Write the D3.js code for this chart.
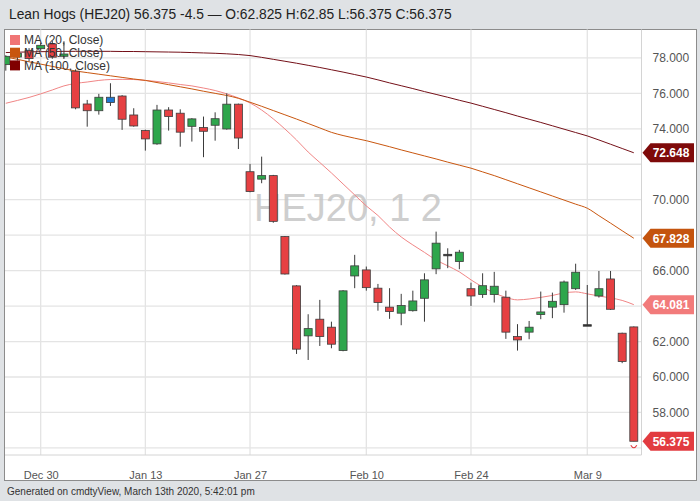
<!DOCTYPE html>
<html>
<head>
<meta charset="utf-8">
<script src="https://cdn.jsdelivr.net/npm/d3@7"></script>
<style>
  html, body { margin: 0; padding: 0; background: #dfe2e5; }
  svg { display: block; font-family: "Liberation Sans", Arial, sans-serif; }
</style>
</head>
<body>
<svg id="chart" width="700" height="501"></svg>
<script>
// ---------------- data ----------------
const title = "Lean Hogs (HEJ20) 56.375 -4.5 \u2014 O:62.825 H:62.85 L:56.375 C:56.375";
const footer = "Generated on cmdtyView, March 13th 2020, 5:42:01 pm";
const watermark = "HEJ20, 1 2";

const dates = ["2019-12-24","2019-12-26","2019-12-27","2019-12-30","2019-12-31",
  "2020-01-02","2020-01-03","2020-01-06","2020-01-07","2020-01-08","2020-01-09","2020-01-10",
  "2020-01-13","2020-01-14","2020-01-15","2020-01-16","2020-01-17","2020-01-21","2020-01-22",
  "2020-01-23","2020-01-24","2020-01-27","2020-01-28","2020-01-29","2020-01-30","2020-01-31",
  "2020-02-03","2020-02-04","2020-02-05","2020-02-06","2020-02-07","2020-02-10","2020-02-11",
  "2020-02-12","2020-02-13","2020-02-14","2020-02-18","2020-02-19","2020-02-20","2020-02-21",
  "2020-02-24","2020-02-25","2020-02-26","2020-02-27","2020-02-28","2020-03-02","2020-03-03",
  "2020-03-04","2020-03-05","2020-03-06","2020-03-09","2020-03-10","2020-03-11","2020-03-12","2020-03-13"];

const open  = [77.62,78.05,78.41,78.52,78.79,78.09,77.25,75.40,75.02,75.48,75.85,74.78,73.90,73.15,75.06,74.88,74.14,74.07,74.20,73.99,75.39,71.58,71.16,71.36,67.92,65.14,62.32,63.26,62.81,61.49,65.70,66.04,65.01,63.94,63.60,63.74,64.44,66.10,66.92,66.51,64.98,64.65,64.65,64.50,62.28,62.53,63.52,63.94,64.08,64.98,62.95,64.57,65.53,62.47,62.825];
const high  = [78.15,78.45,78.55,78.85,78.95,78.94,77.35,75.63,75.97,76.57,75.90,75.16,73.95,75.35,75.22,75.10,74.60,74.69,74.93,76.00,75.42,72.02,72.43,71.40,67.95,65.18,63.54,64.35,63.12,64.90,66.89,66.23,65.25,65.01,64.69,64.87,65.85,68.20,67.26,67.17,65.32,65.85,65.93,64.87,62.98,63.16,64.82,64.76,65.44,66.39,65.19,65.98,65.98,62.50,62.85];
const low   = [77.28,77.85,77.80,78.40,77.95,77.95,75.10,74.12,74.80,75.29,73.94,74.12,72.77,73.10,73.90,72.99,73.28,72.40,73.33,73.95,72.86,70.42,70.93,68.70,65.78,61.30,60.96,61.75,61.62,61.45,65.01,64.87,63.74,63.28,62.92,63.69,63.12,65.80,66.14,66.08,64.01,64.46,64.20,62.15,61.49,62.13,63.26,63.32,63.63,64.91,62.92,64.48,63.78,60.78,56.375];
const close = [78.09,78.25,77.96,78.71,78.04,78.22,75.18,75.02,75.78,75.78,74.54,74.16,73.43,75.06,74.69,73.81,74.56,73.86,74.57,75.39,73.48,70.46,71.36,68.78,65.81,61.57,62.73,62.28,61.85,64.86,66.27,65.04,64.20,63.69,64.03,64.29,65.48,67.55,66.92,67.04,64.57,65.15,65.12,62.53,62.09,62.81,63.67,64.27,65.36,65.91,62.95,64.98,63.82,60.875,56.375];
const blueDays = ["2020-01-08"];

const ma20  = [75.44,75.60,75.77,75.97,76.19,76.42,76.56,76.64,76.73,76.78,76.79,76.78,76.73,76.67,76.59,76.50,76.42,76.30,76.16,75.97,75.74,75.46,75.06,74.56,73.99,73.37,72.69,72.10,71.51,70.89,70.27,69.65,69.11,68.46,67.90,67.45,67.03,66.60,66.27,65.93,65.48,65.08,64.74,64.49,64.35,64.40,64.49,64.60,64.74,64.80,64.69,64.57,64.46,64.32,64.081];
const ma50  = [78.05,77.92,77.78,77.65,77.52,77.39,77.26,77.17,77.08,76.99,76.90,76.81,76.73,76.61,76.49,76.37,76.25,76.12,76.00,75.88,75.72,75.50,75.27,75.03,74.79,74.55,74.30,74.05,73.80,73.62,73.47,73.33,73.16,72.99,72.81,72.64,72.47,72.30,72.12,71.95,71.78,71.57,71.36,71.13,70.90,70.67,70.44,70.21,69.98,69.75,69.52,69.10,68.68,68.25,67.828];
const ma100 = [78.30,78.32,78.34,78.35,78.36,78.37,78.37,78.37,78.37,78.37,78.36,78.36,78.35,78.34,78.33,78.32,78.30,78.28,78.26,78.23,78.19,78.13,78.03,77.92,77.81,77.70,77.58,77.46,77.33,77.20,77.06,76.92,76.76,76.59,76.43,76.27,76.10,75.94,75.78,75.61,75.45,75.27,75.09,74.91,74.72,74.54,74.36,74.17,73.98,73.79,73.60,73.37,73.13,72.89,72.648];

const maNames  = ["MA (20, Close)", "MA (50, Close)", "MA (100, Close)"];
const maColors = ["#f08585", "#c8560f", "#741018"];
const legendColors = ["#f07575", "#c8560f", "#800000"];
const tagColors = ["#f27b7b", "#c4540e", "#7e0a0a"];
const lastTagColor = "#e23b40";

const xTickDates = ["2019-12-30","2020-01-13","2020-01-27","2020-02-10","2020-02-24","2020-03-09"];
const yTicks = [56,58,60,62,64,66,68,70,72,74,76,78];

// ---------------- layout ----------------
const svg = d3.select("#chart");
const plot = {left: 5, right: 641.5, top: 29.5, bottom: 455};

const x = d3.scalePoint().domain(dates).range([5.8, 633.8]);
const y = d3.scaleLinear().domain([55.6, 79.63]).range([plot.bottom, 29]);
const parse = d3.timeParse("%Y-%m-%d");
const fmt = d3.timeFormat("%b %-d");

// header
svg.append("text").attr("x", 9).attr("y", 19).attr("font-size", 13.8).attr("fill", "#222").text(title);

// panel
svg.append("rect").attr("x", 4.5).attr("y", 29.5).attr("width", 692).attr("height", 451)
  .attr("fill", "#fff").attr("stroke", "#8c8c8c").attr("stroke-width", 1);

// footer
svg.append("text").attr("x", 7).attr("y", 495).attr("font-size", 10).attr("fill", "#333").text(footer);

// clip
svg.append("defs").append("clipPath").attr("id", "clip")
  .append("rect").attr("x", plot.left).attr("y", plot.top).attr("width", plot.right - plot.left).attr("height", plot.bottom - plot.top);

// grid
const grid = svg.append("g");
grid.selectAll("line.h").data(yTicks).join("line")
  .attr("x1", plot.left).attr("x2", plot.right)
  .attr("y1", d => y(d)).attr("y2", d => y(d))
  .attr("stroke", "#e4e4e4").attr("stroke-width", 1.3);
grid.selectAll("line.v").data(xTickDates).join("line")
  .attr("x1", d => x(d)).attr("x2", d => x(d))
  .attr("y1", plot.top).attr("y2", plot.bottom)
  .attr("stroke", "#e4e4e4").attr("stroke-width", 1.3);

// plot borders (axis separators)
svg.append("line").attr("x1", plot.right).attr("x2", plot.right).attr("y1", plot.top).attr("y2", plot.bottom)
  .attr("stroke", "#d4d4d4");
svg.append("line").attr("x1", plot.left).attr("x2", plot.right).attr("y1", plot.bottom).attr("y2", plot.bottom)
  .attr("stroke", "#d4d4d4");

// watermark
svg.append("text").attr("x", 254).attr("y", 221).attr("font-size", 38).attr("fill", "#c6c6c6")
  .attr("opacity", 0.85).text(watermark);

// axes
const xAxis = d3.axisBottom(x).tickValues(xTickDates).tickSize(0).tickPadding(0)
  .tickFormat(d => fmt(parse(d)));
const gx = svg.append("g").attr("transform", `translate(0,${plot.bottom + 16})`).call(xAxis);
gx.select(".domain").remove();
gx.selectAll("text").attr("font-size", 11).attr("fill", "#555").attr("font-family", "'Liberation Sans', Arial, sans-serif");

// tags hide the tick labels they sit on
const tagValues = [ma100[ma100.length - 1], ma50[ma50.length - 1], ma20[ma20.length - 1], close[close.length - 1]];
const visibleTicks = yTicks.filter(t => tagValues.every(v => Math.abs(y(t) - y(v)) > 16));

const yAxis = d3.axisRight(y).tickValues(visibleTicks).tickSize(0).tickPadding(0).tickFormat(d3.format(".3f"));
const gy = svg.append("g").attr("transform", `translate(${plot.right + 11},0)`).call(yAxis);
gy.select(".domain").remove();
gy.selectAll("text").attr("font-size", 12).attr("fill", "#555").attr("font-family", "'Liberation Sans', Arial, sans-serif");

// content (clipped)
const content = svg.append("g").attr("clip-path", "url(#clip)");

// MA lines
[ma20, ma50, ma100].forEach((arr, i) => {
  const line = d3.line().x((d, j) => x(dates[j])).y(d => y(d)).curve(d3.curveMonotoneX);
  content.append("path").datum(arr).attr("d", line)
    .attr("fill", "none").attr("stroke", maColors[i]).attr("stroke-width", 1);
});

// candles
const candles = dates.map((d, i) => ({d, o: open[i], h: high[i], l: low[i], c: close[i]}));
const bw = 8;
const cg = content.append("g");
cg.selectAll("line.wick").data(candles).join("line")
  .attr("x1", d => x(d.d)).attr("x2", d => x(d.d))
  .attr("y1", d => y(d.h)).attr("y2", d => y(d.l))
  .attr("stroke", "#3a3a3a").attr("stroke-width", 1);
cg.selectAll("rect.body").data(candles).join("rect")
  .attr("x", d => x(d.d) - bw / 2)
  .attr("y", d => y(Math.max(d.o, d.c)))
  .attr("width", bw)
  .attr("height", d => Math.max(1.5, Math.abs(y(d.o) - y(d.c))))
  .attr("fill", d => blueDays.includes(d.d) ? "#1f78d1" : (d.c > d.o ? "#2ea64c" : (d.c < d.o ? "#e64042" : "#333")))
  .attr("stroke", d => d.c === d.o ? "#333" : "#3d3d3d")
  .attr("stroke-width", 0.8);

// small marker under last candle
const last = candles[candles.length - 1];
content.append("path")
  .attr("d", `M${x(last.d) - 3},${y(last.l) + 4} Q${x(last.d)},${y(last.l) + 9} ${x(last.d) + 3},${y(last.l) + 4}`)
  .attr("fill", "none").attr("stroke", "#e23b40").attr("stroke-width", 1.2);

// legend
const lg = svg.append("g");
maNames.forEach((n, i) => {
  lg.append("rect").attr("x", 10).attr("y", 35 + i * 12.7).attr("width", 10).attr("height", 10).attr("fill", legendColors[i]);
  lg.append("text").attr("x", 24).attr("y", 44.3 + i * 12.7).attr("font-size", 12).attr("fill", "#333").text(n);
});

// price tags
function tag(value, color) {
  const cy = y(value);
  const g = svg.append("g");
  g.append("path")
    .attr("d", `M${plot.right + 1},${cy} L${plot.right + 9},${cy - 9.5} L694,${cy - 9.5} L694,${cy + 9.5} L${plot.right + 9},${cy + 9.5} Z`)
    .attr("fill", color);
  g.append("text").attr("x", 671).attr("y", cy + 4.3).attr("text-anchor", "middle")
    .attr("font-size", 12).attr("font-weight", "bold").attr("fill", "#fff")
    .text(d3.format(".3f")(value));
}
tag(tagValues[0], tagColors[2]);
tag(tagValues[1], tagColors[1]);
tag(tagValues[2], tagColors[0]);
tag(tagValues[3], lastTagColor);
</script>
</body>
</html>
